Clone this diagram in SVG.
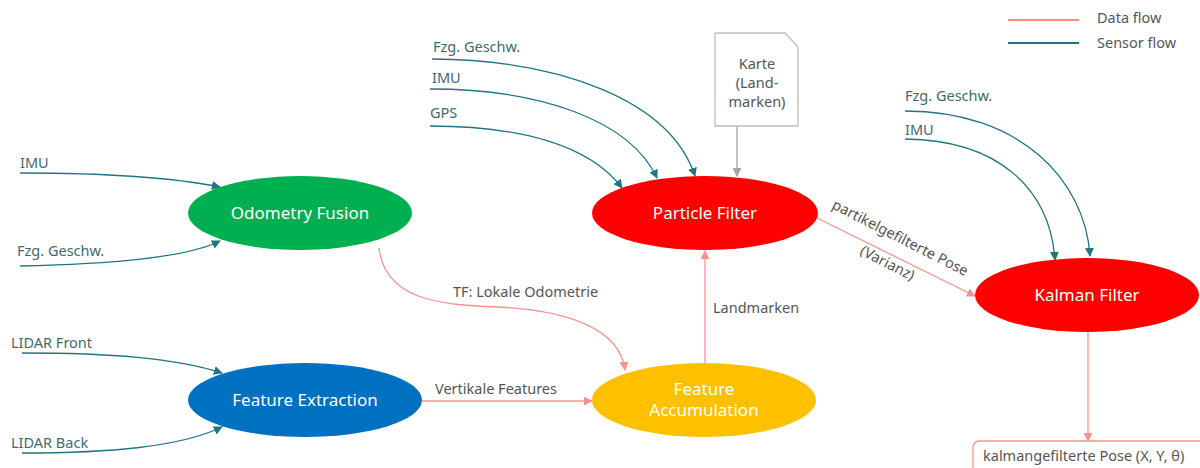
<svg xmlns="http://www.w3.org/2000/svg" width="1200" height="468" viewBox="0 0 1200 468">
<style>
text{font-family:"Noto Sans","Liberation Sans",sans-serif}
.nl{fill:#fff;font-size:17px;text-anchor:middle}
.sl{fill:#3f6a70;font-size:14.5px}
.dl{fill:#555;font-size:14.5px}
.s{fill:none;stroke:#1f7680;stroke-width:1.3}
.d{fill:none;stroke:#ff9090;stroke-width:1.3}
</style>
<defs>
<marker id="as" viewBox="0 0 10 10" refX="9" refY="5" markerWidth="9" markerHeight="9" markerUnits="userSpaceOnUse" orient="auto"><path d="M0,0L10,5L0,10z" fill="#1f7680"/></marker>
<marker id="ad" viewBox="0 0 10 10" refX="9" refY="5" markerWidth="9" markerHeight="9" markerUnits="userSpaceOnUse" orient="auto"><path d="M0,0L10,5L0,10z" fill="#ff9090"/></marker>
<marker id="ag" viewBox="0 0 10 10" refX="9" refY="5" markerWidth="9" markerHeight="9" markerUnits="userSpaceOnUse" orient="auto"><path d="M0,0L10,5L0,10z" fill="#a6a6a6"/></marker>
</defs>
<rect width="1200" height="468" fill="#fff"/>
<g id="legend">
<line x1="1008" y1="20" x2="1079" y2="20" stroke="#ff8a8a" stroke-width="2"/>
<line x1="1008" y1="43" x2="1079" y2="43" stroke="#1f7680" stroke-width="2"/>
<text class="dl" x="1097" y="23">Data flow</text>
<text class="dl" x="1097" y="48">Sensor flow</text>
</g>
<g id="connectors">
<path class="s" d="M20,173 C110,173 170,177 220,187" marker-end="url(#as)"/>
<path class="s" d="M20,266 C110,264 185,258 220,241" marker-end="url(#as)"/>
<path class="s" d="M22,353 C110,353 175,358 222,373" marker-end="url(#as)"/>
<path class="s" d="M22,453 C110,453 180,447 222,427" marker-end="url(#as)"/>
<path class="s" d="M432,59 C560,60 670,100 695,176" marker-end="url(#as)"/>
<path class="s" d="M430,89 C540,89 630,120 657,178" marker-end="url(#as)"/>
<path class="s" d="M430,126 C520,126 590,145 622,188" marker-end="url(#as)"/>
<path class="s" d="M905,111 C1020,111 1085,180 1090,256" marker-end="url(#as)"/>
<path class="s" d="M905,139 C1000,140 1050,190 1055,260" marker-end="url(#as)"/>
<line x1="737" y1="126" x2="737" y2="176" stroke="#a6a6a6" stroke-width="1.3" marker-end="url(#ag)"/>
<path class="d" d="M379,248 C385,300 440,305 497,307 C570,310 620,330 625,370" marker-end="url(#ad)"/>
<line class="d" x1="422" y1="401" x2="592" y2="401" marker-end="url(#ad)"/>
<line class="d" x1="705" y1="363" x2="705" y2="251" marker-end="url(#ad)"/>
<line class="d" x1="817" y1="218" x2="975" y2="296" marker-end="url(#ad)"/>
<line class="d" x1="1088" y1="332" x2="1088" y2="441" marker-end="url(#ad)"/>
<text class="sl" x="20" y="168">IMU</text>
<text class="sl" x="17" y="256">Fzg. Geschw.</text>
<text class="sl" x="11" y="348">LIDAR Front</text>
<text class="sl" x="11" y="448">LIDAR Back</text>
<text class="sl" x="433" y="52">Fzg. Geschw.</text>
<text class="sl" x="432" y="83">IMU</text>
<text class="sl" x="430" y="118">GPS</text>
<text class="sl" x="905" y="101">Fzg. Geschw.</text>
<text class="sl" x="905" y="135">IMU</text>
<text class="dl" x="453" y="297">TF: Lokale Odometrie</text>
<text class="dl" x="435" y="394">Vertikale Features</text>
<text class="dl" x="713" y="313">Landmarken</text>
<text class="dl" transform="translate(831,208) rotate(27)">partikelgefilterte Pose</text>
<text class="dl" transform="translate(859,254) rotate(27)">(Varianz)</text>
</g>
<g id="karte">
<path d="M715,33 H785 L798,47 V126 H715 Z" fill="#fff" stroke="#bfbfbf" stroke-width="1.3"/>
<text class="dl" x="757" y="69" text-anchor="middle">Karte</text>
<text class="dl" x="757" y="88" text-anchor="middle">(Land-</text>
<text class="dl" x="757" y="107" text-anchor="middle">marken)</text>
</g>
<g id="odometry-fusion">
<ellipse cx="300" cy="213" rx="112" ry="37" fill="#00b050"/>
<text class="nl" x="300" y="219">Odometry Fusion</text>
</g>
<g id="feature-extraction">
<ellipse cx="305" cy="400" rx="117" ry="37" fill="#0070c0"/>
<text class="nl" x="305" y="406">Feature Extraction</text>
</g>
<g id="feature-accumulation">
<ellipse cx="704" cy="400" rx="112" ry="37" fill="#ffc000"/>
<text class="nl" x="704" y="395">Feature</text>
<text class="nl" x="704" y="416">Accumulation</text>
</g>
<g id="particle-filter">
<ellipse cx="705" cy="213" rx="113" ry="37" fill="#ff0000"/>
<text class="nl" x="705" y="219">Particle Filter</text>
</g>
<g id="kalman-filter">
<ellipse cx="1087" cy="295" rx="112" ry="37" fill="#ff0000"/>
<text class="nl" x="1087" y="301">Kalman Filter</text>
</g>
<g id="output">
<rect x="973" y="441" width="240" height="40" rx="6" fill="#fff" stroke="#ff9090" stroke-width="1.3"/>
<text class="dl" x="983" y="461">kalmangefilterte Pose (X, Y, θ)</text>
</g>
</svg>
